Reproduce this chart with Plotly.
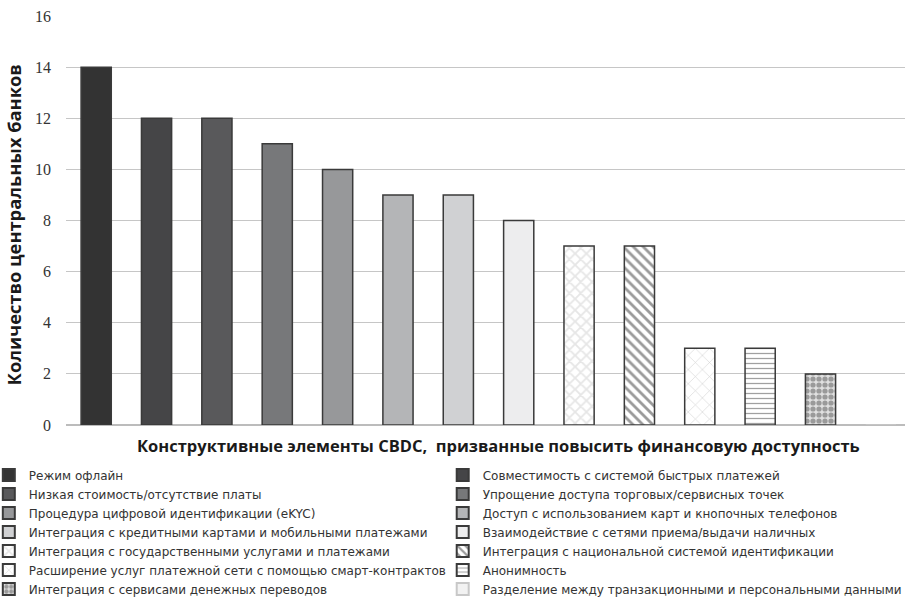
import plotly.graph_objects as go

categories = [
    "Режим офлайн",
    "Совместимость с системой быстрых платежей",
    "Низкая стоимость/отсутствие платы",
    "Упрощение доступа торговых/сервисных точек",
    "Процедура цифровой идентификации (eKYC)",
    "Доступ с использованием карт и кнопочных телефонов",
    "Интеграция с кредитными картами и мобильными платежами",
    "Взаимодействие с сетями приема/выдачи наличных",
    "Интеграция с государственными услугами и платежами",
    "Интеграция с национальной системой идентификации",
    "Расширение услуг платежной сети с помощью смарт-контрактов",
    "Анонимность",
    "Интеграция с сервисами денежных переводов",
    "Разделение между транзакционными и персональными данными",
]
counts = [14, 12, 12, 11, 10, 9, 9, 8, 7, 7, 3, 3, 2, 0]

y_ticks = [0, 2, 4, 6, 8, 10, 12, 14, 16]

# fill style per bar: (background, pattern shape, pattern colour, pattern size, solidity)
styles = [
    ("#333333", "", None, 8, 0.3),
    ("#454547", "", None, 8, 0.3),
    ("#59595b", "", None, 8, 0.3),
    ("#77787a", "", None, 8, 0.3),
    ("#97989a", "", None, 8, 0.3),
    ("#b4b5b7", "", None, 8, 0.3),
    ("#d0d1d3", "", None, 8, 0.3),
    ("#ededee", "", None, 8, 0.3),
    ("#ffffff", "x", "#e6e6e6", 8, 0.4),
    ("#ffffff", "\\", "#9a9a9a", 7, 0.4),
    ("#ffffff", "x", "#d4d4d4", 10, 0.12),
    ("#ffffff", "-", "#a0a0a0", 5, 0.25),
    ("#e0e0e0", ".", "#9a9a9a", 6, 0.6),
    ("#f2f2f2", "", None, 8, 0.3),
]

fig = go.Figure()
for i, (name, val) in enumerate(zip(categories, counts)):
    bg, shape, fg, size, sol = styles[i]
    pattern = dict(shape=shape)
    if shape:
        pattern.update(fgcolor=fg, bgcolor=bg, size=size, solidity=sol, fillmode="replace")
    edge = "#c8c8c8" if i == len(categories) - 1 else "#3a3a3a"
    fig.add_trace(go.Bar(
        x=[i], y=[val], name=name, width=0.5,
        # even-numbered entries go to the left legend column, odd to the right
        legend="legend" if i % 2 == 0 else "legend2",
        marker=dict(color=bg, pattern=pattern, line=dict(color=edge, width=1.5)),
    ))

legend_common = dict(
    orientation="v", y=-0.087, xanchor="left", yanchor="top",
    font=dict(family="DejaVu Sans", size=12, color="#333333"),
    itemwidth=30, tracegroupgap=0, itemsizing="constant",
    traceorder="normal", bgcolor="rgba(0,0,0,0)",
)

fig.update_layout(
    width=905, height=597,
    margin=dict(l=66, r=0, t=16, b=172, autoexpand=False),
    paper_bgcolor="white", plot_bgcolor="white",
    barmode="overlay",
    showlegend=True,
    legend=dict(x=-0.092, **legend_common),
    legend2=dict(x=0.449, **legend_common),
    xaxis=dict(
        range=[-0.5, 13.4], showticklabels=False, showgrid=False,
        zeroline=False, showline=False, ticks="",
    ),
    yaxis=dict(
        range=[0, 16], tickvals=y_ticks, showgrid=True, gridcolor="#c6c6c6",
        gridwidth=1.2, zeroline=True, zerolinecolor="#bcbcbc", zerolinewidth=1.5,
        showline=False, ticks="", ticklabelstandoff=14,
        tickfont=dict(family="Liberation Serif", size=16, color="#333333"),
    ),
    annotations=[
        dict(text="<b>Конструктивные элементы CBDC,  призванные повысить финансовую доступность</b>",
             xref="paper", yref="paper", x=0.515, y=-0.05, xanchor="center", yanchor="middle",
             showarrow=False, font=dict(family="Open Sans", size=16.5, color="#1a1a1a")),
        dict(text="<b>Количество центральных банков</b>",
             xref="paper", yref="paper", x=-0.0615, y=0.489, xanchor="center", yanchor="middle",
             textangle=-90, showarrow=False,
             font=dict(family="Open Sans", size=18.3, color="#1a1a1a")),
    ],
)

fig.write_html("out.html")
